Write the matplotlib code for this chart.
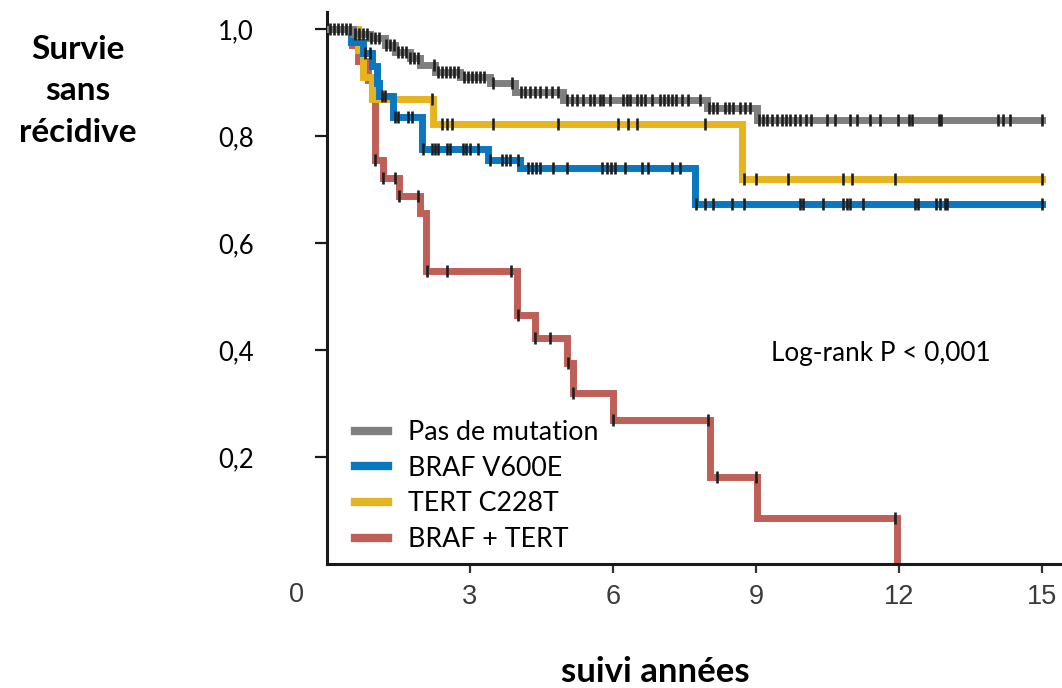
import numpy as np
import matplotlib
matplotlib.use("Agg")
import matplotlib.pyplot as plt

# step curves: time of each drop and level after it
grey_t = [0.55, 0.90, 1.22, 1.43, 1.74, 1.95, 2.27, 2.79, 3.42, 3.94, 4.95, 7.97, 9.02]
grey_s = [0.990, 0.983, 0.970, 0.957, 0.946, 0.933, 0.920, 0.910, 0.900, 0.883, 0.867, 0.853, 0.830]
grey_end = 15.0
grey_cens = [0.06, 0.15, 0.23, 0.31, 0.40, 0.48, 0.59, 0.67, 0.76, 0.84, 0.92, 1.01, 1.09,
             1.24, 1.32, 1.41, 1.49, 1.57, 1.66, 1.74, 1.83, 1.91, 2.24, 2.33, 2.41, 2.50,
             2.58, 2.66, 2.75, 2.87, 2.96, 3.04, 3.13, 3.21, 3.29, 3.48, 3.88, 4.07, 4.15,
             4.26, 4.36, 4.47, 4.59, 4.72, 4.85, 5.03, 5.14, 5.24, 5.37, 5.52, 5.60, 5.73,
             5.79, 5.94, 6.21, 6.29, 6.36, 6.50, 6.59, 6.67, 6.82, 6.99, 7.07, 7.15, 7.24,
             7.32, 7.45, 7.57, 7.82, 8.01, 8.10, 8.18, 8.35, 8.43, 8.52, 8.66, 8.77, 8.87,
             9.06, 9.15, 9.23, 9.34, 9.44, 9.54, 9.63, 9.71, 9.82, 9.92, 10.05, 10.15,
             10.49, 10.66, 10.97, 11.12, 11.39, 11.60, 11.98, 12.21, 12.27, 12.84, 12.88,
             14.08, 14.18, 14.33, 15.0]

blue_t = [0.50, 0.75, 0.95, 1.05, 1.10, 1.38, 1.99, 3.38, 4.05, 7.72]
blue_s = [0.975, 0.955, 0.930, 0.900, 0.875, 0.836, 0.776, 0.755, 0.740, 0.673]
blue_end = 15.0
blue_cens = [0.80, 0.90, 1.15, 1.22, 1.43, 1.49, 1.70, 1.78, 2.01, 2.20, 2.27, 2.33, 2.52,
             2.58, 2.85, 2.92, 3.00, 3.17, 3.42, 3.67, 3.75, 3.84, 4.01, 4.22, 4.30, 4.38,
             4.47, 4.74, 5.03, 5.77, 5.87, 5.96, 6.04, 6.25, 6.61, 6.73, 7.24, 7.41, 7.74,
             7.93, 8.10, 8.50, 8.75, 9.92, 9.99, 10.40, 10.82, 10.91, 10.97, 11.24, 12.33,
             12.40, 12.78, 12.86, 12.96, 13.01, 15.0]

yellow_t = [0.65, 0.75, 0.95, 2.22, 8.71]
yellow_s = [0.960, 0.910, 0.870, 0.822, 0.720]
yellow_end = 15.0
yellow_cens = [2.20, 2.41, 2.52, 2.62, 3.48, 4.85, 6.10, 6.31, 6.50, 7.93, 8.75, 9.00,
               9.67, 10.82, 11.01, 11.92, 15.0]

red_t = [0.52, 0.65, 0.85, 0.95, 1.00, 1.17, 1.51, 1.95, 2.08, 3.99, 4.36, 5.03, 5.16,
         6.00, 8.03, 9.02, 11.96]
red_s = [0.970, 0.940, 0.905, 0.875, 0.755, 0.722, 0.688, 0.657, 0.548, 0.465, 0.422,
         0.375, 0.320, 0.269, 0.163, 0.086, 0.0]
red_end = 11.96
red_cens = [1.01, 1.17, 1.43, 1.51, 1.91, 2.10, 2.52, 3.86, 4.01, 4.36, 4.68, 5.05, 5.16,
            6.00, 7.99, 8.18, 9.00, 11.92]

labels = ["Pas de mutation", "BRAF V600E", "TERT C228T", "BRAF + TERT"]
colors = ["#7f7f7f", "#0a78c0", "#e6b41e", "#bf5f57"]

x_ticks = [3, 6, 9, 12, 15]
y_ticks = [0.2, 0.4, 0.6, 0.8, 1.0]
y_ticklabels = ["0,2", "0,4", "0,6", "0,8", "1,0"]

FONT = "Lato"

fig = plt.figure(figsize=(10.62, 6.88), dpi=100)
ax = fig.add_axes([327 / 1062, 124 / 688, 735 / 1062, 552 / 688])

curves = [
    (grey_t, grey_s, grey_end, grey_cens),
    (blue_t, blue_s, blue_end, blue_cens),
    (yellow_t, yellow_s, yellow_end, yellow_cens),
    (red_t, red_s, red_end, red_cens),
]

handles = [None] * 4
draw_order = [3, 2, 1, 0]
for z, i in enumerate(draw_order):
    t, s, t_end, cens = curves[i]
    tt = np.r_[0.0, t, t_end]
    ss = np.r_[1.0, s, s[-1]]
    line, = ax.step(tt, ss, where="post", color=colors[i], lw=5,
                    solid_joinstyle="miter", zorder=2 + z, label=labels[i])
    handles[i] = line

# censor marks
for i in range(4):
    t, s, t_end, cens = curves[i]
    steps_t = np.r_[0.0, t]
    steps_s = np.r_[1.0, s]
    cens = np.array(cens)
    idx = np.searchsorted(steps_t, cens, side="right") - 1
    ax.plot(cens, steps_s[idx], ls="none", marker="|", ms=9, mew=1.9,
            color="#1e1e1e", zorder=10)

ax.set_xlim(0, 735 / 47.67)
ax.set_ylim(0, 552 / 535)

for side in ["top", "right"]:
    ax.spines[side].set_visible(False)
for side in ["left", "bottom"]:
    ax.spines[side].set_linewidth(2.2)
    ax.spines[side].set_color("#1a1a1a")

ax.set_yticks(y_ticks)
ax.set_yticklabels(y_ticklabels, fontfamily=FONT, fontsize=18.5)
ax.tick_params(axis="y", length=8.5, width=1.6, color="#1a1a1a", pad=44)

ax.set_xticks(x_ticks)
ax.set_xticklabels([str(v) for v in x_ticks], fontfamily="Liberation Sans",
                   fontsize=19.5, color="#3a3a3a")
ax.tick_params(axis="x", length=6.5, width=1.6, color="#333333", pad=8)

ax.text(-30 / 47.67, -31 / 535, "0", fontfamily="Liberation Sans", fontsize=19.5,
        color="#3a3a3a", ha="center", va="center", clip_on=False)

ax.text(444 / 47.67, 0.394, "Log-rank P < 0,001", fontfamily=FONT, fontsize=18.8,
        ha="left", va="center")

fig.text(78 / 1062, 1 - 91 / 688, "Survie\nsans\nrécidive", fontfamily=FONT,
         fontweight="bold", fontsize=24, ha="center", va="center", linespacing=1.52)
fig.text(655 / 1062, 1 - 672 / 688, "suivi années", fontfamily=FONT,
         fontweight="bold", fontsize=25, ha="center", va="center")

leg = ax.legend(handles=handles, labels=labels, loc="upper left",
                bbox_to_anchor=(28 / 735, (564 - 420) / 552), frameon=False,
                prop={"family": FONT, "size": 19.3}, handlelength=1.22,
                handletextpad=0.74, labelspacing=0.4, borderpad=0, borderaxespad=0)
for h in leg.legend_handles:
    h.set_linewidth(6)

fig.savefig("out.png", dpi=100)
